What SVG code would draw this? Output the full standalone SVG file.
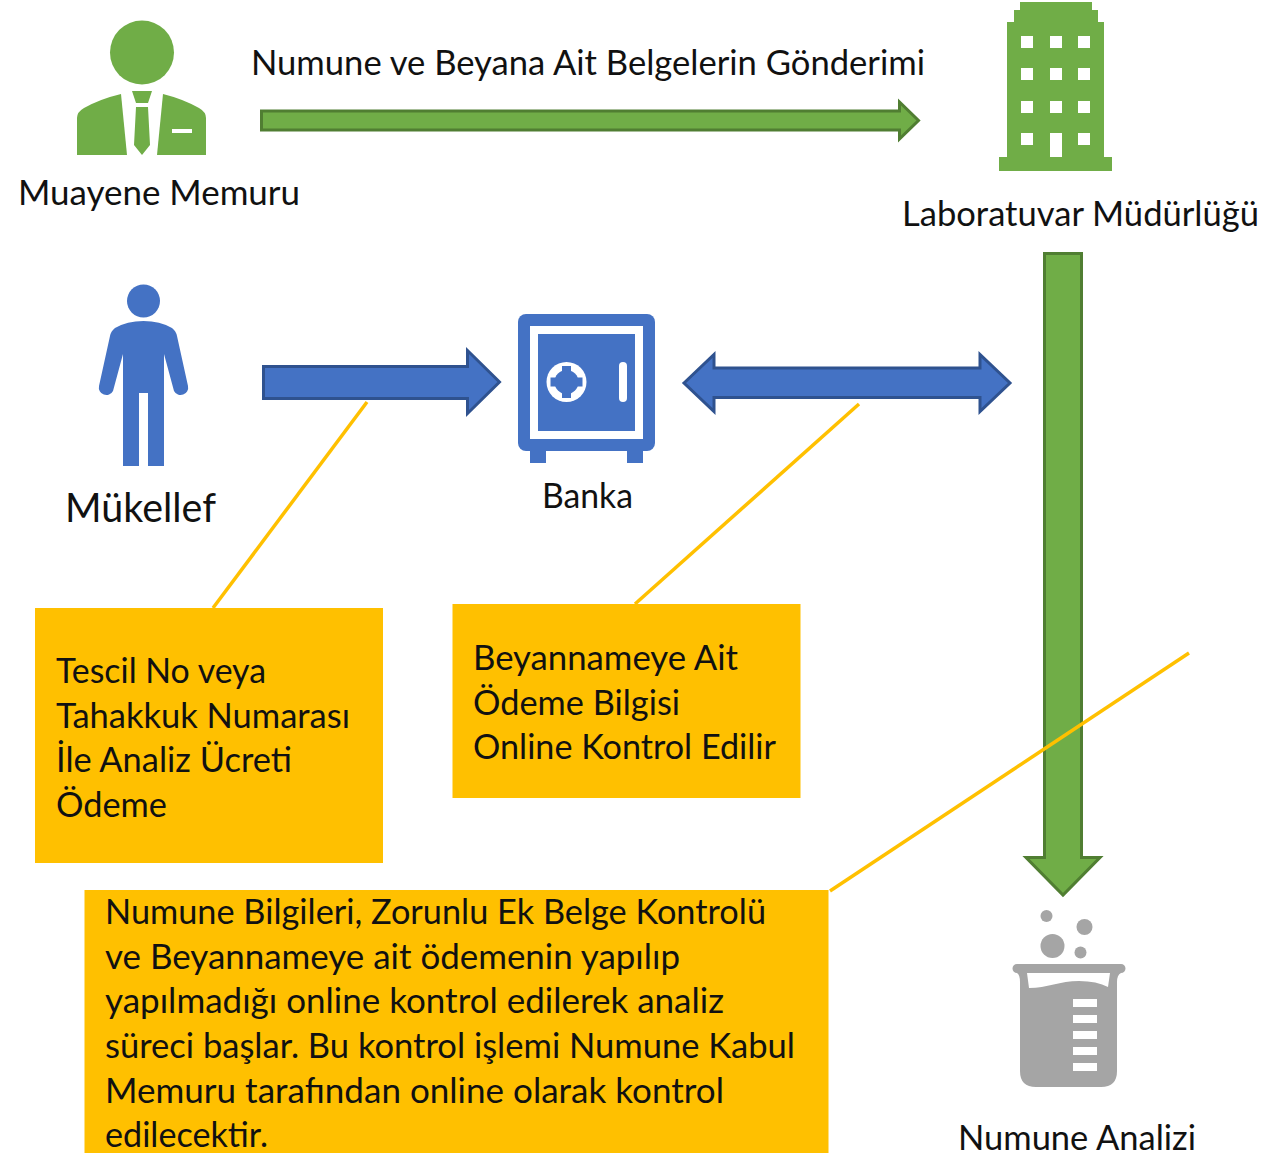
<svg xmlns="http://www.w3.org/2000/svg" width="1283" height="1153" viewBox="0 0 1283 1153">
<style>
text{font-family:Lato,"Open Sans","Liberation Sans",sans-serif;font-size:34px;fill:#111}
.box{fill:#ffc000}
.lead{fill:none;stroke:#ffc000;stroke-width:3.500}
.ga{fill:#70ad47;stroke:#507e32;stroke-width:3}
.ba{fill:#4472c4;stroke:#2f528f;stroke-width:3}
.g{fill:#70ad47}.b{fill:#4472c4}.k{fill:#a5a5a5}.w{fill:#fff}
</style>
<rect width="1283" height="1153" fill="#fff"/>
<g id="connectors">
<path class="ga" d="M261.500 111H899.500V102L918.500 120.500L899.500 139V130H261.500Z"/>
<path class="ba" d="M263.500 366.500H467.500V350.500L499.500 382L467.500 413.500V398.500H263.500Z"/>
<path class="ba" d="M684 383L714 354.500V368H980V354.500L1010 383L980 411.500V397.500H714V411.500Z"/>
<path class="ga" d="M1044.500 253.500H1081.500V857.500H1100L1063 895L1026 857.500H1044.500Z"/>
<path class="lead" d="M367 402L213 608"/>
<path class="lead" d="M859 404L635 604"/>
<path class="lead" d="M1189 653L830 891"/>
</g>
<g id="muayene-memuru">
<circle class="g" cx="142" cy="52.500" r="32"/>
<path class="g" d="M121 94L127 155H77V118Q77 112 84 108Q100 99 121 94Z"/>
<path class="g" d="M163 94L157 155H206V118Q206 112 199 108Q183 99 163 94Z"/>
<path class="g" d="M132 91H152L148 103H136ZM136 107H148L150 145L142 155L134 145Z"/>
<rect class="w" x="172" y="129" width="20" height="4"/>
<text x="18" y="205" textLength="282" lengthAdjust="spacingAndGlyphs">Muayene Memuru</text>
</g>
<g id="laboratuvar-mudurlugu">
<path class="g" d="M1020 2H1092V10H1098V22H1104V157H1112V171H999V157H1007V22H1014V10H1020Z"/>
<g class="w">
<rect x="1021" y="36" width="12" height="12"/><rect x="1050" y="36" width="12" height="12"/><rect x="1078" y="36" width="12" height="12"/>
<rect x="1021" y="68" width="12" height="12"/><rect x="1050" y="68" width="12" height="12"/><rect x="1078" y="68" width="12" height="12"/>
<rect x="1021" y="101" width="12" height="12"/><rect x="1050" y="101" width="12" height="12"/><rect x="1078" y="101" width="12" height="12"/>
<rect x="1021" y="133" width="12" height="12"/><rect x="1050" y="133" width="12" height="24"/><rect x="1078" y="133" width="12" height="12"/>
</g>
<text x="902" y="226" textLength="357" lengthAdjust="spacingAndGlyphs">Laboratuvar Müdürlüğü</text>
</g>
<g id="mukellef">
<circle class="b" cx="143.500" cy="301" r="16.500"/>
<path class="b" d="M143.500 321Q160 321 172 328Q176 331 177 336L188 386A7.500 7.500 0 0 1 174 391L164 354V466H148V393H139V466H123V354L113 391A7.500 7.500 0 0 1 99 386L110 336Q111 331 115 328Q127 321 143.500 321Z"/>
<text x="65" y="522" style="font-size:40px" textLength="151" lengthAdjust="spacingAndGlyphs">Mükellef</text>
</g>
<g id="banka">
<rect class="b" x="518" y="314" width="137" height="137" rx="8"/>
<rect class="b" x="530" y="449" width="16" height="14"/><rect class="b" x="627" y="449" width="16" height="14"/>
<rect class="w" x="530" y="326" width="113" height="113"/>
<rect class="b" x="538" y="334" width="97" height="97"/>
<circle class="w" cx="566.500" cy="382" r="20"/>
<circle class="b" cx="566.500" cy="382" r="12"/>
<rect class="b" x="562" y="366" width="9" height="32"/><rect class="b" x="550.500" y="377.500" width="32" height="9"/>
<rect class="w" x="619" y="362" width="8" height="40" rx="4"/>
<text x="542" y="508" textLength="91" lengthAdjust="spacingAndGlyphs">Banka</text>
</g>
<g id="numune-analizi">
<circle class="k" cx="1046.500" cy="916" r="6"/><circle class="k" cx="1084.500" cy="927" r="8"/><circle class="k" cx="1052.500" cy="946" r="12"/><circle class="k" cx="1080.500" cy="952.500" r="6"/>
<path class="k" d="M1017 964H1121A4.500 4.500 0 0 1 1121 973Q1117 975 1117 982V1071Q1117 1087 1101 1087H1036Q1020 1087 1020 1071V982Q1020 975 1017 973A4.500 4.500 0 0 1 1017 964Z"/>
<path class="w" d="M1027 973H1110L1108 987Q1097 981 1079 981C1060 981 1047 988 1029 988Z"/>
<g class="w"><rect x="1073" y="999" width="24" height="8"/><rect x="1073" y="1015" width="24" height="8"/><rect x="1073" y="1031" width="24" height="8"/><rect x="1073" y="1047" width="24" height="8"/><rect x="1073" y="1063" width="24" height="8"/></g>
<text x="958" y="1150" textLength="238" lengthAdjust="spacingAndGlyphs">Numune Analizi</text>
</g>
<g id="gonderim-label"><text x="251" y="75" textLength="674" lengthAdjust="spacingAndGlyphs">Numune ve Beyana Ait Belgelerin Gönderimi</text></g>
<g id="not-odeme">
<rect class="box" x="35" y="608" width="348" height="255"/>
<text x="56" y="683" textLength="210" lengthAdjust="spacingAndGlyphs">Tescil No veya</text>
<text x="56" y="728" textLength="294" lengthAdjust="spacingAndGlyphs">Tahakkuk Numarası</text>
<text x="56" y="772" textLength="236" lengthAdjust="spacingAndGlyphs">İle Analiz Ücreti</text>
<text x="56" y="817" textLength="111" lengthAdjust="spacingAndGlyphs">Ödeme</text>
</g>
<g id="not-kontrol">
<rect class="box" x="452.500" y="604" width="348" height="194"/>
<text x="473" y="670" textLength="265" lengthAdjust="spacingAndGlyphs">Beyannameye Ait</text>
<text x="473" y="715" textLength="207" lengthAdjust="spacingAndGlyphs">Ödeme Bilgisi</text>
<text x="473" y="759" textLength="303" lengthAdjust="spacingAndGlyphs">Online Kontrol Edilir</text>
</g>
<g id="not-analiz">
<rect class="box" x="84.500" y="890" width="744" height="263"/>
<text x="105" y="924" textLength="661" lengthAdjust="spacingAndGlyphs">Numune Bilgileri, Zorunlu Ek Belge Kontrolü</text>
<text x="105" y="969" textLength="575" lengthAdjust="spacingAndGlyphs">ve Beyannameye ait ödemenin yapılıp</text>
<text x="105" y="1013" textLength="619" lengthAdjust="spacingAndGlyphs">yapılmadığı online kontrol edilerek analiz</text>
<text x="105" y="1058" textLength="690" lengthAdjust="spacingAndGlyphs">süreci başlar. Bu kontrol işlemi Numune Kabul</text>
<text x="105" y="1103" textLength="619" lengthAdjust="spacingAndGlyphs">Memuru tarafından online olarak kontrol</text>
<text x="105" y="1147" textLength="163" lengthAdjust="spacingAndGlyphs">edilecektir.</text>
</g>
</svg>
